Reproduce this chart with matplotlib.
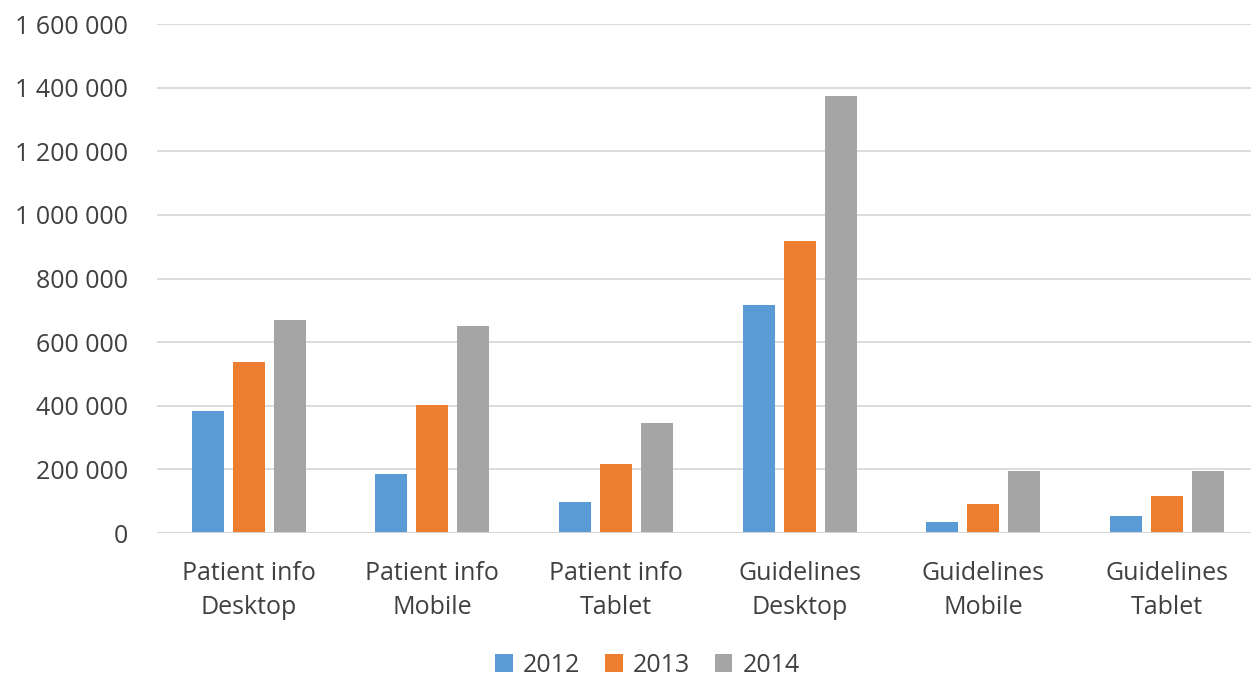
import numpy as np
import matplotlib.pyplot as plt
from matplotlib.ticker import FuncFormatter, MultipleLocator

categories = ['Patient info\nDesktop', 'Patient info\nMobile', 'Patient info\nTablet',
              'Guidelines\nDesktop', 'Guidelines\nMobile', 'Guidelines\nTablet']
years = ['2012', '2013', '2014']
values_2012 = [384000, 187000, 99000, 716000, 34000, 52000]
values_2013 = [537000, 402000, 218000, 918000, 91000, 117000]
values_2014 = [670000, 651000, 345000, 1374000, 194000, 194000]
colors = ['#5B9BD5', '#ED7D31', '#A5A5A5']

plt.rcParams['font.family'] = ['Open Sans', 'DejaVu Sans']
text_color = '#404040'

fig = plt.figure(figsize=(12.51, 6.77), dpi=100)
ax = fig.add_axes([0.1255, 0.2127, 0.8806, 0.7518])

x = np.arange(len(categories))
width = 0.174
step = 0.223
for i, (vals, year, color) in enumerate(zip([values_2012, values_2013, values_2014], years, colors)):
    ax.bar(x + (i - 1) * step, vals, width, color=color, label=year, zorder=3)

ax.set_xlim(-0.5, len(categories) - 0.5)
ax.set_ylim(0, 1600000)
ax.yaxis.set_major_locator(MultipleLocator(200000))
ax.yaxis.set_major_formatter(FuncFormatter(lambda v, p: f'{int(v):,}'.replace(',', ' ')))
ax.grid(axis='y', color='#D9D9D9', linewidth=1.3, zorder=0)
for s in ax.spines.values():
    s.set_visible(False)
ax.axhline(0, color='#D9D9D9', linewidth=1.3, zorder=4)

ax.set_xticks(x)
ax.set_xticklabels(categories, fontsize=18, color=text_color, linespacing=1.5)
ax.tick_params(axis='x', length=0, pad=20)
ax.tick_params(axis='y', length=0, pad=21, labelsize=18, labelcolor=text_color)

leg = fig.legend(loc='center', bbox_to_anchor=(0.5176, 0.0177), ncol=3, frameon=False,
                 fontsize=18, handlelength=0.7, handleheight=0.7, handletextpad=0.4,
                 columnspacing=1.0, borderpad=0.0, borderaxespad=0.0)
for t in leg.get_texts():
    t.set_color(text_color)

fig.savefig('out.png', dpi=100)
